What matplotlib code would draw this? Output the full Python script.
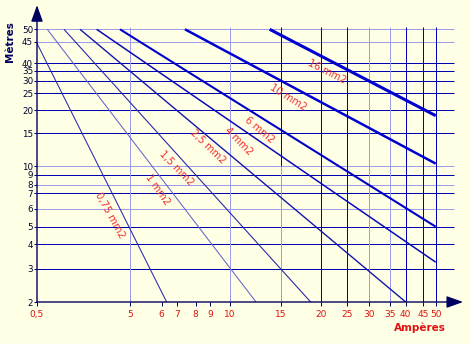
import numpy as np
from matplotlib import pyplot as plt
from matplotlib.ticker import NullLocator

# axis ticks
amp_ticks = [0.5, 5, 6, 7, 8, 9, 10, 15, 20, 25, 30, 35, 40, 45, 50]
amp_labels = ['0,5', '5', '6', '7', '8', '9', '10', '15', '20', '25', '30', '35', '40', '45', '50']
len_ticks = [2, 3, 4, 5, 6, 7, 8, 9, 10, 15, 20, 25, 30, 35, 40, 45, 50]
len_labels = [str(v) for v in len_ticks]

# grid values (some drawn pale in the original)
amp_grid = [5, 10, 15, 20, 25, 30, 35, 40, 45, 50]
amp_grid_pale = [5, 10, 30, 35]
len_grid = [3, 4, 5, 6, 7, 8, 9, 10, 15, 20, 25, 30, 35, 40, 45, 50]
len_grid_pale = [6, 8, 10, 45, 50]

# one straight segment per cable section: (amps, metres) start -> end
sections = ['0,75 mm2', '1 mm2', '1,5 mm2', '2,5 mm2', '4 mm2', '6 mm2', '10 mm2', '16 mm2']
amp_start = [0.5, 0.645, 0.975, 1.45, 2.19, 3.9, 7.4, 13.7]
len_start = [44.6, 50, 50, 50, 50, 50, 50, 50]
amp_end = [6.3, 12.3, 18.6, 40, 50, 50, 50, 50]
len_end = [2, 2, 2, 2, 3.24, 5, 10.3, 18.7]

# where the section names sit
label_amp = [3.05, 5.87, 6.91, 8.85, 10.74, 12.6, 15.8, 21.1]
label_len = [5.62, 7.39, 9.77, 12.66, 13.63, 15.6, 23.8, 34.3]
label_rot = [-61, -55, -46, -44, -45, -40, -32, -27]

line_widths = [0.75, 0.75, 0.8, 1.0, 1.1, 1.5, 1.8, 2.2]
line_colors = ['#2828a8', '#6464cc', '#2a2aaa', '#1515b0', '#0a0abb', '#0000c8', '#0000d0', '#0000d0']

BG = '#ffffe6'
NAVY = '#00005e'
DARK = '#0000b0'
PALE = '#9c9cea'
RED = '#dd1111'


# the original log axes are hand spaced: piecewise log scale through its ticks
def log_pieces(values, pos):
    lv = np.log10(values)

    def fwd(v):
        v = np.asarray(v, dtype=float)
        return np.interp(np.log10(np.clip(v, 1e-6, None)), lv, pos)

    def inv(u):
        return 10 ** np.interp(u, pos, lv)
    return fwd, inv


x_scale = log_pieces([0.5, 5, 6, 7, 8, 9, 10, 15, 20, 25, 30, 35, 40, 45, 50, 66],
                     [0, 93, 124.7, 140.3, 158.7, 173, 193, 244, 283.7, 310.3, 332.3, 353, 368.7, 386.3, 398.7, 433])
y_scale = log_pieces([2, 3, 4, 5, 6, 7, 8, 9, 10, 15, 20, 25, 30, 35, 40, 45, 50, 64],
                     [0, 33.3, 57.7, 75.3, 93.5, 108.7, 117, 127, 136, 168.7, 191.7, 208.7, 221, 231.3, 238.7, 260.3, 272.7, 302])

fig = plt.figure(figsize=(4.7, 3.44), dpi=100, facecolor=BG)
ax = fig.add_axes([37 / 470, 42 / 344, 433 / 470, 302 / 344])
ax.set_facecolor(BG)
ax.set_xscale('function', functions=x_scale)
ax.set_yscale('function', functions=y_scale)
ax.set_xlim(0.5, 66)
ax.set_ylim(2, 64)

# grid
for v in len_grid:
    c = PALE if v in len_grid_pale else DARK
    ax.hlines(v, 0.5, 58, color=c, lw=0.72, zorder=1)
for v in amp_grid:
    if v == 15:
        # dark above 10 m, pale below in the original
        ax.vlines(v, 10, 50.8, color=DARK, lw=0.72, zorder=1)
        ax.vlines(v, 2, 10, color=PALE, lw=0.72, zorder=1)
        continue
    c = PALE if v in amp_grid_pale else DARK
    ax.vlines(v, 2, 50.8, color=c, lw=0.72, zorder=1)

# cable lines + names
for i, name in enumerate(sections):
    ax.plot([amp_start[i], amp_end[i]], [len_start[i], len_end[i]],
            color=line_colors[i], lw=line_widths[i], solid_capstyle='butt', zorder=3)
    ax.text(label_amp[i], label_len[i], name, rotation=label_rot[i], rotation_mode='anchor',
            ha='center', va='center', fontsize=7.2, color='#f03030', zorder=4)

# axes with arrow heads
for spine in ax.spines.values():
    spine.set_visible(False)
arrow = dict(arrowstyle='-|>,head_length=1.0,head_width=0.36', color=NAVY, lw=1.0,
             mutation_scale=10, shrinkA=0, shrinkB=0)
ax.annotate('', xy=(0.984, 0), xytext=(0, 0), xycoords='axes fraction',
            arrowprops=arrow, annotation_clip=False, zorder=5)
ax.annotate('', xy=(0, 0.983), xytext=(0, 0), xycoords='axes fraction',
            arrowprops=arrow, annotation_clip=False, zorder=5)

ax.set_xticks(amp_ticks)
ax.set_xticklabels(amp_labels)
ax.set_yticks(len_ticks)
ax.set_yticklabels(len_labels)
ax.xaxis.set_minor_locator(NullLocator())
ax.yaxis.set_minor_locator(NullLocator())
ax.tick_params(axis='x', length=2.9, width=0.7, color=NAVY, pad=2.6, labelsize=6.5, labelcolor=RED)
ax.tick_params(axis='y', length=2.2, width=0.7, color=NAVY, pad=0.6, labelsize=6.3, labelcolor='#000030')

fig.text(420 / 470, 1 - 328 / 344, 'Ampères', ha='center', va='center',
         fontsize=7.5, fontweight='bold', color=RED)
fig.text(10 / 470, 1 - 42 / 344, 'Mètres', ha='center', va='center', rotation=90,
         fontsize=7.5, fontweight='bold', color=NAVY)

plt.savefig('out.png', dpi=100, facecolor=BG)
